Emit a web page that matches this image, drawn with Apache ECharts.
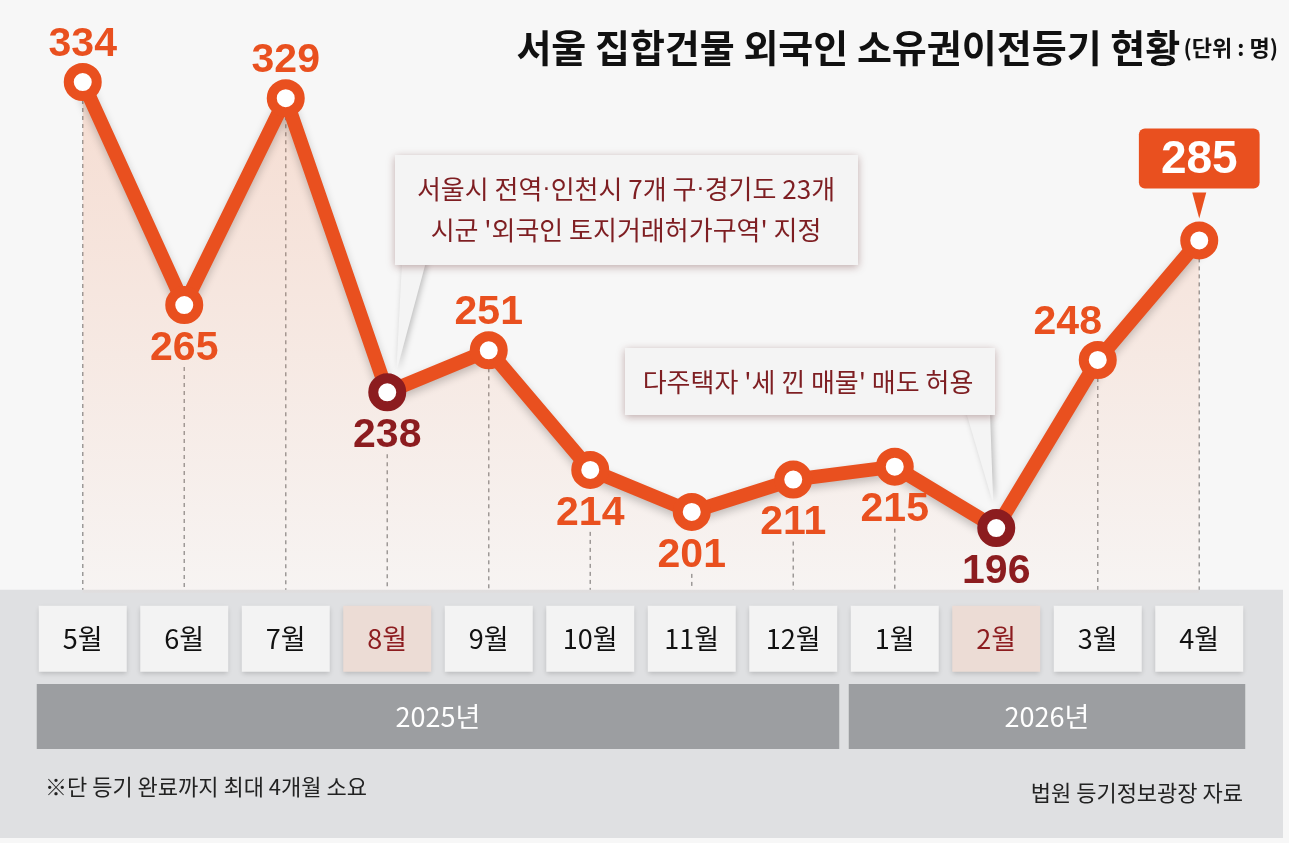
<!DOCTYPE html>
<html><head><meta charset="utf-8">
<script src="https://cdn.jsdelivr.net/npm/echarts@6/dist/echarts.min.js"></script>
<style>html,body{margin:0;padding:0;background:#f7f7f7}#c{width:1289px;height:843px}</style>
</head><body><div id="c"></div>
<script>
// ---- data ----
const months = ['5월','6월','7월','8월','9월','10월','11월','12월','1월','2월','3월','4월'];
const values = [334, 265, 329, 238, 251, 214, 201, 211, 215, 196, 248, 285];
const highlightIdx = [3, 9];          // 8월, 2월 (policy events)
const belowIdx = [1, 3, 5, 6, 7, 8, 9]; // labels drawn under the point
const lastIdx = 11;                    // boxed latest value
const years = [{ name: '2025년', from: 0, to: 7 }, { name: '2026년', from: 8, to: 11 }];
const titleText = '서울 집합건물 외국인 소유권이전등기 현황';
const unitText = '(단위 : 명)';
const note1Lines = [['서울시 전역', '인천시 7개 구', '경기도 23개'], ["시군 '외국인 토지거래허가구역' 지정"]];
const note2Lines = [["다주택자 '세 낀 매물' 매도 허용"]];
const footnote = '※단 등기 완료까지 최대 4개월 소요';
const sourceText = '법원 등기정보광장 자료';

// ---- style ----
const ORANGE = '#e9501f', DARK = '#8c1c1f';
const KR = '"Noto Sans CJK KR", "Noto Sans", sans-serif';
const NUM = '"Liberation Sans", Arial, sans-serif';
const Y_MIN = 176, Y_MAX = 350;

const chart = echarts.init(document.getElementById('c'));

const seriesData = values.map((v, i) => {
  const hl = highlightIdx.includes(i);
  const col = hl ? DARK : ORANGE;
  const below = belowIdx.includes(i);
  const d = {
    value: v,
    itemStyle: { color: '#ffffff', borderColor: col, borderWidth: 10 },
    label: {
      show: true,
      position: below ? 'bottom' : 'top',
      distance: below ? 4 : -2,
      color: col,
      fontFamily: NUM, fontWeight: 'bold', fontSize: 41
    }
  };
  if (i === 10) d.label.offset = [-30, 0];
  if (i === lastIdx) {
    d.label = {
      show: true, position: 'top', distance: 33,
      color: '#ffffff', backgroundColor: ORANGE, borderRadius: 6,
      padding: [9, 22, 5, 22],
      fontFamily: NUM, fontWeight: 'bold', fontSize: 46
    };
  }
  return d;
});

const dotRich = { d: { font: '25px "Liberation Sans"', fill: '#7e1e22' } };
const joinDots = line => line.join('{d|·}');

const option = {
  backgroundColor: '#f7f7f7',
  animation: false,
  grid: { left: 32, right: 39, top: 30.3, bottom: 250.3, outerBoundsMode: 'none' },
  xAxis: {
    type: 'category', data: months, boundaryGap: true, z: 10,
    axisLine: { show: false }, axisTick: { show: false }, splitLine: { show: false },
    axisLabel: {
      margin: 13, interval: 0,
      formatter: (val, idx) => (highlightIdx.includes(idx) ? '{h|' : '{n|') + val + '}',
      rich: {
        n: { width: 88, height: 66, align: 'center', verticalAlign: 'middle', backgroundColor: '#f3f3f3',
             color: '#111', fontSize: 27, fontFamily: KR,
             shadowColor: 'rgba(0,0,0,0.18)', shadowBlur: 5, shadowOffsetY: 2 },
        h: { width: 88, height: 66, align: 'center', verticalAlign: 'middle', backgroundColor: '#ecdcd5',
             color: DARK, fontSize: 27, fontFamily: KR,
             shadowColor: 'rgba(0,0,0,0.18)', shadowBlur: 5, shadowOffsetY: 2 }
      }
    }
  },
  yAxis: { type: 'value', min: Y_MIN, max: Y_MAX, show: false, splitLine: { show: false } },
  series: [
    {
      type: 'custom', z: 1, silent: true,
      data: values.map((v, i) => [i, v]),
      renderItem: (params, api) => {
        const i = api.value(0);
        const top = api.coord([i, api.value(1)]);
        const bot = api.coord([i, Y_MIN]);
        const start = top[1] + (belowIdx.includes(i) ? 62 : 18);
        return { type: 'line', shape: { x1: top[0], y1: start, x2: bot[0], y2: bot[1] },
                 style: { stroke: '#9a9a9a', lineWidth: 1.5, lineDash: [4, 4] } };
      }
    },
    {
      type: 'line', z: 3, data: seriesData,
      symbol: 'circle', symbolSize: 28,
      lineStyle: { color: ORANGE, width: 14, shadowColor: 'rgba(0,0,0,0.22)', shadowBlur: 8, shadowOffsetY: 4 },
      areaStyle: {
        color: { type: 'linear', x: 0, y: 0, x2: 0, y2: 1, colorStops: [
          { offset: 0, color: 'rgba(240,130,80,0.32)' }, { offset: 1, color: 'rgba(240,130,80,0.04)' }] }
      },
      emphasis: { disabled: true }
    }
  ]
};
chart.setOption(option);

// ---- decorations (positions derived from the axes) ----
const px = i => chart.convertToPixel({ xAxisIndex: 0, yAxisIndex: 0 }, [i, values[i]]);
const axisY = chart.convertToPixel({ yAxisIndex: 0 }, Y_MIN);
const catX = i => chart.convertToPixel({ xAxisIndex: 0 }, i);

const g = [];
// gray bottom panel
g.push({ type: 'rect', z: 1, shape: { x: 0, y: axisY - 3, width: 1283, height: 838 - axisY + 3 },
         style: { fill: '#dfe0e2' } });
// year bars
years.forEach(y => {
  const x0 = catX(y.from) - 46, x1 = catX(y.to) + 46;
  g.push({ type: 'rect', z: 2, shape: { x: x0, y: 684, width: x1 - x0, height: 65 }, style: { fill: '#9c9ea1' } });
  g.push({ type: 'text', z: 3, x: (x0 + x1) / 2, y: 717,
           style: { text: y.name, fill: '#ffffff', font: '27px ' + KR, align: 'center', verticalAlign: 'middle' } });
});
// title
g.push({ type: 'text', z: 20, x: 1278, y: 48,
  style: { text: '{t|' + titleText + '} {u|' + unitText + '}', align: 'right', verticalAlign: 'middle',
    rich: { t: { font: 'bold 38px ' + KR, fill: '#111' }, u: { font: 'bold 22px ' + KR, fill: '#111' } } } });
// footnotes
g.push({ type: 'text', z: 20, x: 45, y: 787,
  style: { text: footnote, font: '22px ' + KR, fill: '#222', verticalAlign: 'middle' } });
g.push({ type: 'text', z: 20, x: 1243, y: 793,
  style: { text: sourceText, font: '22px ' + KR, fill: '#222', align: 'right', verticalAlign: 'middle' } });

// callout 1 (8월)
const p8 = px(highlightIdx[0]);
g.push({ type: 'polygon', z: 19, shape: { points: [[402, 262], [426, 262], [p8[0] + 9, p8[1] - 20]] },
         style: { fill: '#f4f4f4', shadowColor: 'rgba(0,0,0,0.25)', shadowBlur: 6, shadowOffsetX: 2 } });
g.push({ type: 'rect', z: 19, shape: { x: 395, y: 155, width: 463, height: 110 },
         style: { fill: '#f4f4f4', shadowColor: 'rgba(90,30,30,0.35)', shadowBlur: 8, shadowOffsetY: 2 } });
g.push({ type: 'text', z: 21, x: 626, y: 210,
  style: { text: note1Lines.map(joinDots).join('\n'), font: '26px ' + KR, fill: '#7e1e22', align: 'center',
           verticalAlign: 'middle', lineHeight: 41, rich: dotRich } });
// callout 2 (2월)
const p2 = px(highlightIdx[1]);
g.push({ type: 'polygon', z: 19, shape: { points: [[966, 412], [990, 412], [p2[0] - 3, p2[1] - 24]] },
         style: { fill: '#f4f4f4', shadowColor: 'rgba(0,0,0,0.25)', shadowBlur: 6, shadowOffsetX: 2 } });
g.push({ type: 'rect', z: 19, shape: { x: 625, y: 348, width: 370, height: 67 },
         style: { fill: '#f4f4f4', shadowColor: 'rgba(90,30,30,0.35)', shadowBlur: 8, shadowOffsetY: 2 } });
g.push({ type: 'text', z: 21, x: 808, y: 382,
  style: { text: note2Lines.map(joinDots).join('\n'), font: '26px ' + KR, fill: '#7e1e22', align: 'center',
           verticalAlign: 'middle', rich: dotRich } });
// pointer under the boxed latest value
const pl = px(lastIdx);
g.push({ type: 'polygon', z: 5, shape: { points: [[pl[0] - 7, pl[1] - 48], [pl[0] + 7, pl[1] - 48], [pl[0], pl[1] - 22]] },
         style: { fill: ORANGE } });

chart.setOption({ graphic: g });
</script>
</body></html>
